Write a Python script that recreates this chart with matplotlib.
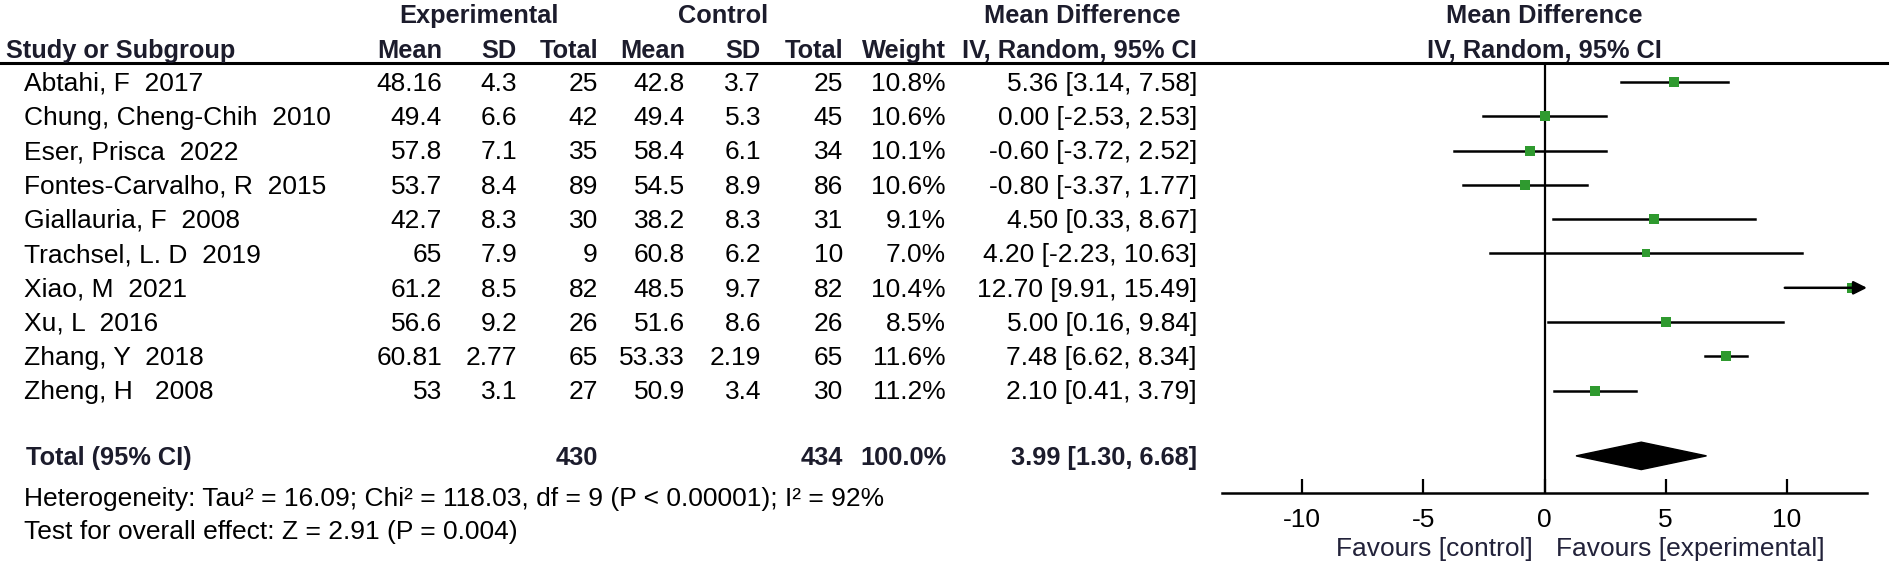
import numpy as np
import matplotlib.pyplot as plt
from matplotlib.patches import Polygon

plt.rcParams['font.family'] = ['Liberation Sans', 'DejaVu Sans']

studies = ['Abtahi, F  2017', 'Chung, Cheng-Chih  2010', 'Eser, Prisca  2022',
           'Fontes-Carvalho, R  2015', 'Giallauria, F  2008', 'Trachsel, L. D  2019',
           'Xiao, M  2021', 'Xu, L  2016', 'Zhang, Y  2018', 'Zheng, H   2008']
exp_mean = ['48.16', '49.4', '57.8', '53.7', '42.7', '65', '61.2', '56.6', '60.81', '53']
exp_sd = ['4.3', '6.6', '7.1', '8.4', '8.3', '7.9', '8.5', '9.2', '2.77', '3.1']
exp_n = [25, 42, 35, 89, 30, 9, 82, 26, 65, 27]
ctl_mean = ['42.8', '49.4', '58.4', '54.5', '38.2', '60.8', '48.5', '51.6', '53.33', '50.9']
ctl_sd = ['3.7', '5.3', '6.1', '8.9', '8.3', '6.2', '9.7', '8.6', '2.19', '3.4']
ctl_n = [25, 45, 34, 86, 31, 10, 82, 26, 65, 30]
weight = [10.8, 10.6, 10.1, 10.6, 9.1, 7.0, 10.4, 8.5, 11.6, 11.2]
md = [5.36, 0.00, -0.60, -0.80, 4.50, 4.20, 12.70, 5.00, 7.48, 2.10]
lo = [3.14, -2.53, -3.72, -3.37, 0.33, -2.23, 9.91, 0.16, 6.62, 0.41]
hi = [7.58, 2.53, 2.52, 1.77, 8.67, 10.63, 15.49, 9.84, 8.34, 3.79]

total_md, total_lo, total_hi = 3.99, 1.30, 6.68
total_exp_n, total_ctl_n = 430, 434
ticks = [-10, -5, 0, 5, 10]
xmin, xmax = -13.3, 13.3

W, H = 1893, 569
row0, step = 82, 34.3  # pixel y of first row, row spacing


def row_of(px):
    return (px - row0) / step


fig = plt.figure(figsize=(W / 100, H / 100), dpi=100)

# text layer, x in pixels, y in rows
tab = fig.add_axes([0, 0, 1, 1])
tab.set_xlim(0, W)
tab.set_ylim(row_of(H), row_of(0))
tab.axis('off')

fs = 19
fb = 18.3
hdr = '#1c1c2c'
cols = [442, 517, 598, 685, 761, 843, 946, 1197]
dy = 0.05

tab.text(479, row_of(16), 'Experimental', ha='center', va='center', fontsize=fb, fontweight='bold', color=hdr)
tab.text(723, row_of(16), 'Control', ha='center', va='center', fontsize=fb, fontweight='bold', color=hdr)
tab.text(1082, row_of(16), 'Mean Difference', ha='center', va='center', fontsize=fb, fontweight='bold', color=hdr)
tab.text(1544, row_of(16), 'Mean Difference', ha='center', va='center', fontsize=fb, fontweight='bold', color=hdr)

sub = ['Mean', 'SD', 'Total', 'Mean', 'SD', 'Total', 'Weight', 'IV, Random, 95% CI']
tab.text(6, row_of(51), 'Study or Subgroup', ha='left', va='center', fontsize=fb, fontweight='bold', color=hdr)
for x, s in zip(cols, sub):
    tab.text(x, row_of(51), s, ha='right', va='center', fontsize=fb, fontweight='bold', color=hdr)
tab.text(1544, row_of(51), 'IV, Random, 95% CI', ha='center', va='center', fontsize=fb, fontweight='bold', color=hdr)

tab.plot([0, 1887], [row_of(63), row_of(63)], color='black', lw=2.2)

for i, name in enumerate(studies):
    vals = [exp_mean[i], exp_sd[i], str(exp_n[i]), ctl_mean[i], ctl_sd[i], str(ctl_n[i]),
            f'{weight[i]:.1f}%', f'{md[i]:.2f} [{lo[i]:.2f}, {hi[i]:.2f}]']
    tab.text(24, i + dy, name, ha='left', va='center', fontsize=fs)
    for x, v in zip(cols, vals):
        tab.text(x, i + dy, v, ha='right', va='center', fontsize=fs)

trow = 10.9
tab.text(26, trow + dy, 'Total (95% CI)', ha='left', va='center', fontsize=fb, fontweight='bold', color=hdr)
tab.text(cols[2], trow + dy, str(total_exp_n), ha='right', va='center', fontsize=fb, fontweight='bold', color=hdr)
tab.text(cols[5], trow + dy, str(total_ctl_n), ha='right', va='center', fontsize=fb, fontweight='bold', color=hdr)
tab.text(cols[6], trow + dy, '100.0%', ha='right', va='center', fontsize=fb, fontweight='bold', color=hdr)
tab.text(cols[7], trow + dy, f'{total_md:.2f} [{total_lo:.2f}, {total_hi:.2f}]', ha='right', va='center',
         fontsize=fb, fontweight='bold', color=hdr)

tab.text(24, row_of(499), 'Heterogeneity: Tau\u00b2 = 16.09; Chi\u00b2 = 118.03, df = 9 (P < 0.00001); I\u00b2 = 92%',
         ha='left', va='center', fontsize=fs)
tab.text(24, row_of(532), 'Test for overall effect: Z = 2.91 (P = 0.004)', ha='left', va='center', fontsize=fs)

# forest panel
x0, x1, ytop, ybot = 1222, 1867, 63, 493
ax = fig.add_axes([x0 / W, 1 - ybot / H, (x1 - x0) / W, (ybot - ytop) / H])
ax.set_xlim(xmin, xmax)
ax.set_ylim(row_of(ybot), row_of(ytop))
ax.patch.set_alpha(0)
for s in ['top', 'left', 'right']:
    ax.spines[s].set_visible(False)
ax.spines['bottom'].set_linewidth(1.8)
ax.set_yticks([])
ax.set_xticks(ticks)
ax.set_xticklabels([str(t) for t in ticks])
ax.tick_params(axis='x', direction='in', length=10, width=1.6, labelsize=fs, pad=11)

ax.axvline(0, color='black', lw=1.6)

green = '#2f9a2f'
for i in range(len(md)):
    side = 3.2 * np.sqrt(weight[i]) / 1.389
    if hi[i] > xmax:
        ax.annotate('', xy=(xmax, i), xytext=(lo[i], i),
                    arrowprops=dict(arrowstyle='-|>,head_length=0.8,head_width=0.4', color='black', lw=1.8,
                                    shrinkA=0, shrinkB=0), annotation_clip=False)
    else:
        ax.plot([lo[i], hi[i]], [i, i], color='black', lw=1.8)
    ax.plot(md[i], i, marker='s', color=green, markersize=side, markeredgewidth=0)

dh = 0.4
ax.add_patch(Polygon([[total_lo, trow], [total_md, trow - dh], [total_hi, trow], [total_md, trow + dh]],
                     closed=True, color='black'))

tab.text(1533, row_of(549), 'Favours [control]', ha='right', va='center', fontsize=fs, color='#22223a')
tab.text(1556, row_of(549), 'Favours [experimental]', ha='left', va='center', fontsize=fs, color='#22223a')

fig.savefig('out.png', dpi=100)
